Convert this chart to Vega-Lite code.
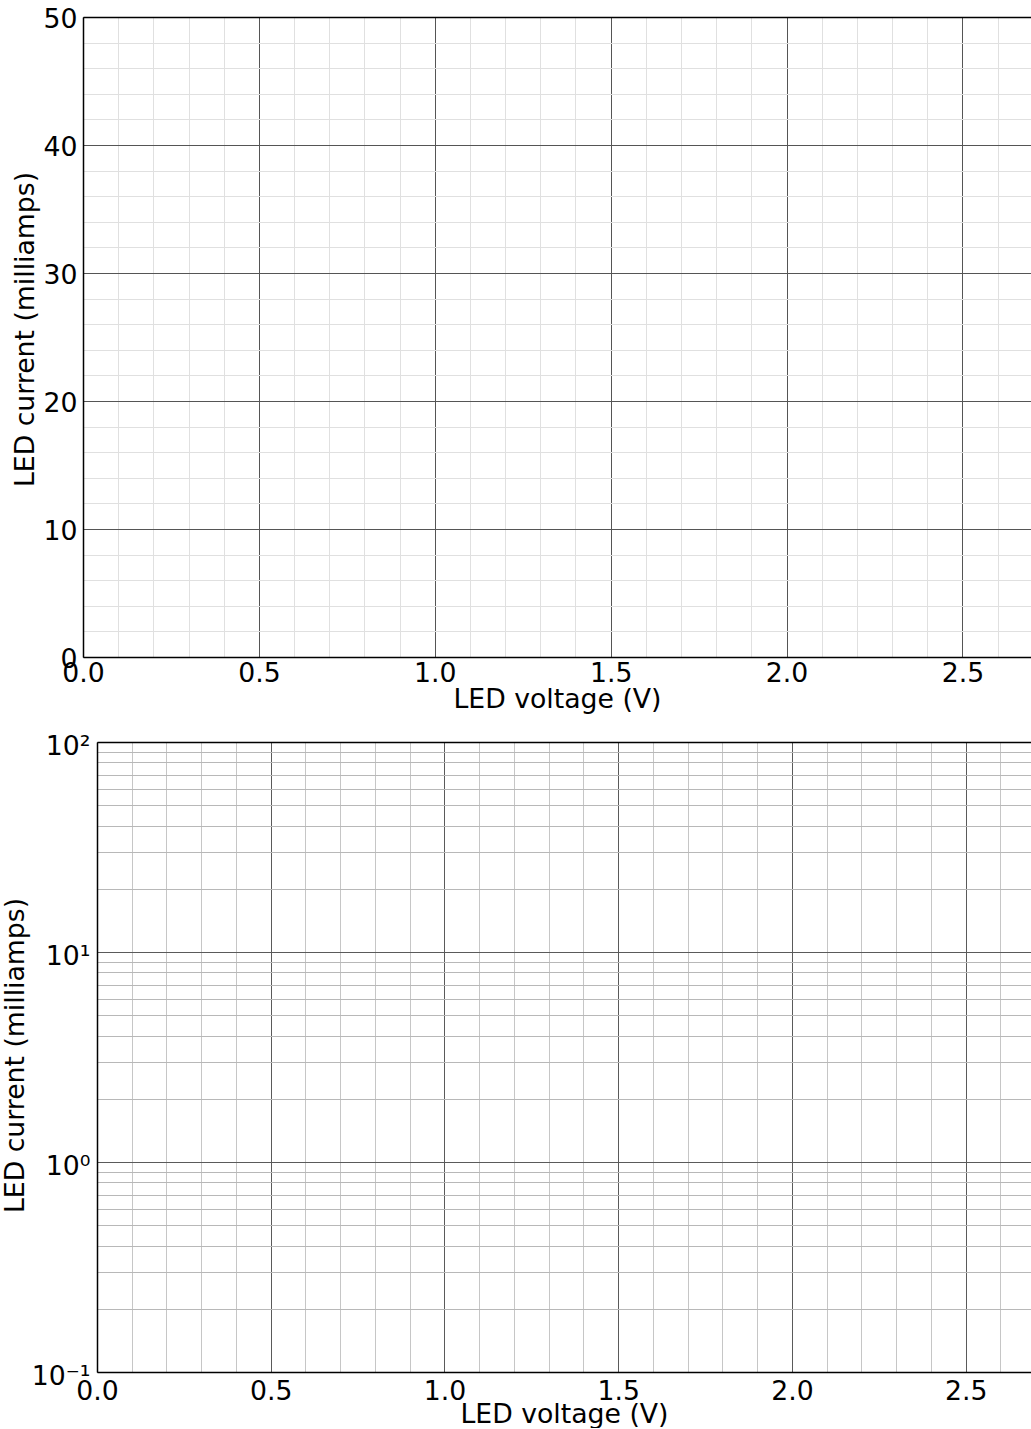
{
  "$schema": "https://vega.github.io/schema/vega-lite/v6.json",
  "background": "white",
  "padding": {"left": 2, "top": 6, "right": 0, "bottom": 0},
  "config": {
    "font": "DejaVu Sans",
    "view": {"stroke": null},
    "axis": {
      "labelFont": "DejaVu Sans", "titleFont": "DejaVu Sans",
      "labelFontSize": 26.7, "titleFontSize": 26.7,
      "labelColor": "#000", "titleColor": "#000", "titleFontWeight": "normal",
      "labelFlush": false, "labelOverlap": false,
      "domainColor": "#000", "domainWidth": 1.5, "ticks": false
    }
  },
  "spacing": 20,
  "vconcat": [
    {
      "width": 948, "height": 640,
      "data": {"values": []},
      "layer": [
        {"mark": "point", "encoding": {
          "x": {"field": "V", "type": "quantitative", "scale": {"domain": [0, 2.695], "nice": false, "zero": false},
                "axis": {"orient": "bottom", "values": [0.1,0.2,0.3,0.4,0.6,0.7,0.8,0.9,1.1,1.2,1.3,1.4,1.6,1.7,1.8,1.9,2.1,2.2,2.3,2.4,2.6], "grid": true, "gridColor": "#e0e0e0", "gridWidth": 1, "labels": false, "domain": false, "title": null}},
          "y": {"field": "I", "type": "quantitative", "scale": {"domain": [0, 50], "nice": false, "zero": false},
                "axis": {"orient": "left", "values": [2,4,6,8,12,14,16,18,22,24,26,28,32,34,36,38,42,44,46,48], "grid": true, "gridColor": "#e0e0e0", "gridWidth": 1, "labels": false, "domain": false, "title": null}}
        }},
        {"mark": "point", "encoding": {
          "x": {"field": "V", "type": "quantitative", "scale": {"domain": [0, 2.695], "nice": false, "zero": false},
                "axis": {"orient": "bottom", "values": [0,0.5,1,1.5,2,2.5], "format": ".1f", "grid": true, "gridColor": "#555555", "gridWidth": 1, "labelPadding": 3, "title": "LED voltage (V)", "titleBaseline": "alphabetic", "titleY": 50}},
          "y": {"field": "I", "type": "quantitative", "scale": {"domain": [0, 50], "nice": false, "zero": false},
                "axis": {"orient": "left", "values": [0,10,20,30,40,50], "format": "d", "grid": true, "gridColor": "#555555", "gridWidth": 1, "labelPadding": 6, "labelOffset": 2, "title": "LED current (milliamps)", "titleAngle": 270, "titleBaseline": "alphabetic", "titleX": -50, "titleY": 312}}
        }},
        {"mark": "point", "encoding": {
          "x": {"field": "V", "type": "quantitative", "scale": {"domain": [0, 2.695], "nice": false, "zero": false},
                "axis": {"orient": "top", "labels": false, "grid": false, "domain": true, "title": null}}
        }}
      ],
      "resolve": {"axis": {"x": "independent", "y": "independent"}}
    },
    {
      "width": 948, "height": 630,
      "data": {"values": []},
      "layer": [
        {"mark": "point", "encoding": {
          "x": {"field": "V", "type": "quantitative", "scale": {"domain": [0, 2.688], "range": [14, 948], "nice": false, "zero": false},
                "axis": {"orient": "bottom", "values": [0.1,0.2,0.3,0.4,0.6,0.7,0.8,0.9,1.1,1.2,1.3,1.4,1.6,1.7,1.8,1.9,2.1,2.2,2.3,2.4,2.6], "grid": true, "gridColor": "#c6c6c6", "gridWidth": 1, "labels": false, "domain": false, "title": null}},
          "y": {"field": "I", "type": "quantitative", "scale": {"type": "log", "domain": [0.1, 100], "nice": false},
                "axis": {"orient": "left", "offset": -14, "values": [0.2,0.3,0.4,0.5,0.6,0.7,0.8,0.9,2,3,4,5,6,7,8,9,20,30,40,50,60,70,80,90], "grid": true, "gridColor": "#b8b8b8", "gridWidth": 1, "labels": false, "domain": false, "title": null}}
        }},
        {"mark": "point", "encoding": {
          "x": {"field": "V", "type": "quantitative", "scale": {"domain": [0, 2.688], "range": [14, 948], "nice": false, "zero": false},
                "axis": {"orient": "bottom", "values": [0,0.5,1,1.5,2,2.5], "format": ".1f", "grid": true, "gridColor": "#5a5a5a", "gridWidth": 1, "labelPadding": 6, "title": "LED voltage (V)", "titleBaseline": "alphabetic", "titleX": 481, "titleY": 50}},
          "y": {"field": "I", "type": "quantitative", "scale": {"type": "log", "domain": [0.1, 100], "nice": false},
                "axis": {"orient": "left", "offset": -14, "values": [0.1,1,10,100], "labelExpr": "datum.value >= 99 ? '10²' : datum.value >= 9 ? '10¹' : datum.value >= 0.9 ? '10⁰' : '10⁻¹'", "grid": true, "gridColor": "#5a5a5a", "gridWidth": 1, "labelPadding": 7, "labelOffset": 4, "title": "LED current (milliamps)", "titleAngle": 270, "titleBaseline": "alphabetic", "titleX": -74, "titleY": 313}}
        }},
        {"mark": "point", "encoding": {
          "x": {"field": "V", "type": "quantitative", "scale": {"domain": [0, 2.688], "range": [14, 948], "nice": false, "zero": false},
                "axis": {"orient": "top", "labels": false, "grid": false, "domain": true, "title": null}}
        }}
      ],
      "resolve": {"axis": {"x": "independent", "y": "independent"}}
    }
  ]
}
